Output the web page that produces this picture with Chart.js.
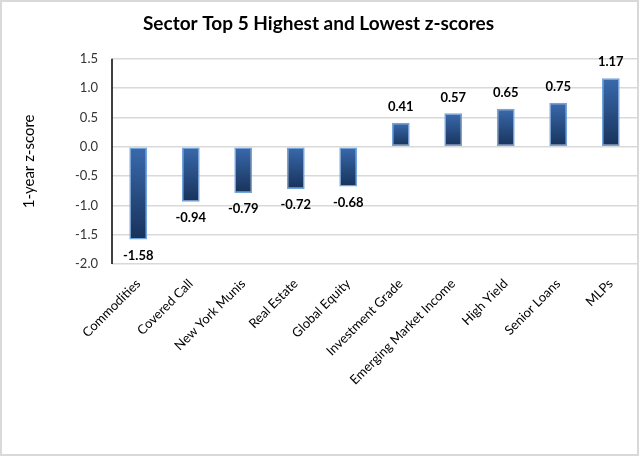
<!DOCTYPE html>
<html>
<head>
<meta charset="utf-8">
<script src="https://cdn.jsdelivr.net/npm/chart.js@4/dist/chart.umd.min.js"></script>
<style>
  html, body { margin: 0; padding: 0; background: #fff; }
  #wrap { width: 640px; height: 457px; }
</style>
</head>
<body>
<div id="wrap"><canvas id="chart" width="640" height="457"></canvas></div>
<script>
// Values
const categories = [
  "Commodities", "Covered Call", "New York Munis", "Real Estate", "Global Equity",
  "Investment Grade", "Emerging Market Income", "High Yield", "Senior Loans", "MLPs",
];
const zScores = [-1.58, -0.94, -0.79, -0.72, -0.68, 0.41, 0.57, 0.65, 0.75, 1.17];
const yMin = -2.0;
const yMax = 1.5;
const yStep = 0.5;

const FONT = "Lato, 'Open Sans', sans-serif";

// chart frame: white fill plus thin grey border
const framePlugin = {
  id: "frame",
  beforeDraw(chart) {
    const c = chart.ctx;
    c.save();
    c.fillStyle = "#fff";
    c.fillRect(0, 0, chart.width, chart.height);
    c.strokeStyle = "#d9d9d9";
    c.lineWidth = 2;
    c.strokeRect(1, 1, chart.width - 3, chart.height - 3);
    c.restore();
  },
  afterDraw(chart) {
    // vertical axis line
    const c = chart.ctx;
    const a = chart.chartArea;
    c.save();
    c.strokeStyle = "#000";
    c.lineWidth = 1.5;
    c.beginPath();
    c.moveTo(a.left, a.top);
    c.lineTo(a.left, a.bottom);
    c.stroke();
    c.restore();
  },
};

// bold value labels above / below each bar
const valueLabels = {
  id: "valueLabels",
  afterDatasetsDraw(chart) {
    const c = chart.ctx;
    const meta = chart.getDatasetMeta(0);
    c.save();
    c.font = "bold 13px " + FONT;
    c.fillStyle = "#000";
    c.textAlign = "center";
    c.textBaseline = "middle";
    meta.data.forEach((bar, i) => {
      const v = zScores[i];
      const y = v >= 0 ? bar.y - 16 : bar.y + 16;
      c.fillText(v.toFixed(2), bar.x, y);
    });
    c.restore();
  },
};

function barGradient(ctx) {
  const chart = ctx.chart;
  if (!chart.chartArea) return "#2b5592";
  const y = chart.scales.y;
  const p0 = y.getPixelForValue(0);
  const p1 = y.getPixelForValue(ctx.raw);
  const g = chart.ctx.createLinearGradient(0, Math.min(p0, p1), 0, Math.max(p0, p1));
  g.addColorStop(0, "#3a6aad");
  g.addColorStop(1, "#17325a");
  return g;
}

new Chart(document.getElementById("chart"), {
  type: "bar",
  data: {
    labels: categories,
    datasets: [{
      data: zScores,
      backgroundColor: barGradient,
      borderColor: "#74a4dc",
      borderWidth: 1.5,
      borderSkipped: false,
      categoryPercentage: 1,
      barPercentage: 0.34,
    }],
  },
  options: {
    responsive: false,
    animation: false,
    layout: { padding: { top: 0, right: 3, bottom: 0, left: 0 } },
    plugins: {
      legend: { display: false },
      tooltip: { enabled: false },
      title: {
        display: true,
        text: "Sector Top 5 Highest and Lowest z-scores",
        color: "#000",
        font: { family: FONT, size: 19, weight: "bold" },
        padding: { top: 12, bottom: 24 },
      },
    },
    scales: {
      x: {
        grid: { display: false, drawTicks: false },
        border: { display: false },
        ticks: {
          color: "#000",
          font: { family: FONT, size: 13 },
          minRotation: 45,
          maxRotation: 45,
          autoSkip: false,
          padding: 12,
        },
        afterFit(scale) { scale.height = 193; },
      },
      y: {
        min: yMin,
        max: yMax,
        grid: { color: "#d9d9d9", lineWidth: 1.5, drawTicks: false },
        border: { display: false },
        ticks: {
          stepSize: yStep,
          color: "#333",
          padding: 14,
          font: { family: FONT, size: 13 },
          callback: (v) => Number(v).toFixed(1),
        },
        title: {
          display: true,
          text: "1-year z-score",
          color: "#000",
          font: { family: FONT, size: 15 },
          padding: { top: 20, bottom: 0 },
        },
        afterFit(scale) { scale.width = 112; },
      },
    },
  },
  plugins: [framePlugin, valueLabels],
});
</script>
</body>
</html>
